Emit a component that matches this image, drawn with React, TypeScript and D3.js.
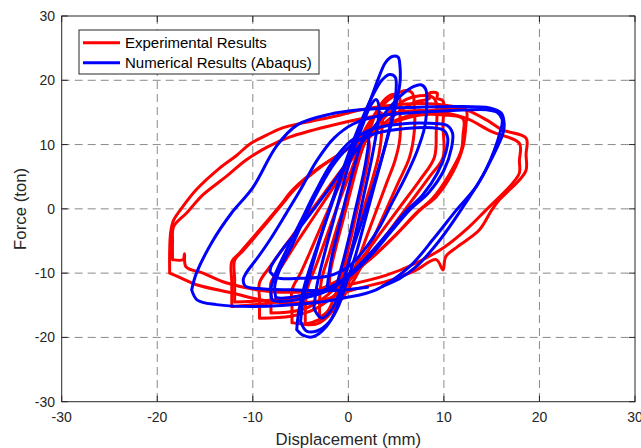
import React from "react";
import * as d3 from "d3";

type P = [number, number];

// Tick values
const xTicks = [-30, -20, -10, 0, 10, 20, 30];
const yTicks = [-30, -20, -10, 0, 10, 20, 30];

// Legend labels
const seriesNames = ["Experimental Results", "Numerical Results (Abaqus)"];
const seriesColors = ["#ff0000", "#0000ff"];

// Experimental (red) hysteresis loops  [displacement mm, force ton]
const redLoop1: P[] = [[-18.7,-10.0],[-18.7,-6.5],[-18.6,-3.7],[-18.3,-1.8],[-17.4,0.2],[-15.9,3.0],[-13.5,6.3],[-11.7,8.3],[-10.3,10.1],[-8.5,11.5],[-6.9,12.6],[-4.0,13.6],[-2.0,14.2],[2.0,15.6],[6.0,16.3],[9.0,16.3],[12.3,15.4],[14.5,13.8],[16.1,12.3],[18.6,11.0],[18.6,8.5],[18.6,6.0],[17.9,4.5],[15.8,1.4],[15.0,-0.2],[13.7,-3.3],[11.5,-5.8],[10.2,-7.4],[9.9,-9.5],[9.2,-7.9],[7.0,-9.6],[4.6,-11.0],[0.5,-12.6],[-3.0,-14.3],[-6.9,-14.6],[-10.0,-13.9],[-12.1,-13.1],[-15.9,-11.8],[-17.6,-10.7],[-18.7,-10.0]];
const redLoop2: P[] = [[-18.4,-7.9],[-18.4,-5.0],[-18.3,-2.8],[-16.9,-0.6],[-15.2,2.2],[-12.8,5.0],[-10.7,7.6],[-8.5,9.6],[-6.1,11.2],[-2.0,12.9],[2.0,14.2],[6.0,15.2],[9.0,15.2],[12.3,14.1],[15.0,12.0],[17.9,10.2],[17.9,7.5],[17.9,5.6],[17.2,4.0],[14.4,-0.2],[12.5,-3.0],[10.0,-6.0],[7.0,-8.5],[4.0,-10.3],[0.0,-11.8],[-4.0,-12.8],[-8.0,-12.9],[-12.8,-11.5],[-15.2,-10.0],[-17.0,-9.0],[-17.15,-7.0],[-17.3,-7.9],[-18.4,-7.9]];
const redLoop3: P[] = [[-12.2,-15.2],[-12.2,-11.5],[-12.2,-8.2],[-11.4,-6.9],[-9.3,-3.3],[-7.2,0.4],[-5.8,3.0],[-3.0,6.5],[-0.2,9.2],[2.0,11.6],[4.5,13.5],[7.5,15.0],[10.0,15.5],[12.3,15.4],[12.3,13.0],[12.0,9.7],[10.9,5.6],[9.2,1.9],[7.5,-0.2],[5.0,-4.0],[2.5,-7.5],[0.0,-10.2],[-2.5,-12.2],[-5.0,-13.6],[-8.0,-14.6],[-10.5,-15.0],[-12.2,-15.2]];
const redLoop4: P[] = [[-11.9,-14.5],[-11.9,-11.0],[-11.9,-8.0],[-11.0,-6.5],[-9.0,-3.0],[-7.0,0.6],[-5.5,3.2],[-2.8,6.6],[0.0,9.4],[2.3,11.8],[4.8,13.5],[7.5,14.6],[10.0,14.6],[12.0,14.0],[12.0,11.5],[11.8,9.0],[10.5,5.2],[8.8,1.6],[7.2,-0.5],[4.8,-4.3],[2.3,-7.8],[-0.2,-10.5],[-2.7,-12.4],[-5.2,-13.6],[-8.2,-14.2],[-10.5,-14.4],[-11.9,-14.5]];
const redLoop5: P[] = [[-9.3,-17.0],[-9.3,-14.0],[-9.3,-11.5],[-8.2,-9.0],[-6.5,-5.5],[-4.5,-1.5],[-2.5,2.5],[-0.5,6.5],[1.5,10.0],[3.5,13.0],[5.5,15.3],[7.0,16.6],[8.5,17.2],[8.5,18.0],[9.3,18.0],[9.3,17.2],[9.9,16.8],[9.9,13.0],[9.9,8.0],[8.5,5.0],[6.5,1.0],[4.5,-3.0],[2.5,-7.0],[0.5,-10.5],[-1.5,-13.5],[-3.5,-15.6],[-6.0,-16.7],[-9.3,-17.0]];
const redLoop6: P[] = [[-8.1,-16.2],[-8.1,-13.5],[-8.1,-11.5],[-7.0,-9.0],[-5.3,-5.0],[-3.5,-1.0],[-1.5,3.5],[0.5,8.0],[2.5,12.0],[4.3,15.0],[6.0,17.0],[7.5,17.6],[8.8,17.4],[9.2,16.5],[9.2,12.0],[9.0,8.0],[7.5,4.5],[5.5,0.5],[3.5,-3.5],[1.5,-7.5],[-0.5,-11.0],[-2.5,-13.8],[-4.5,-15.5],[-6.5,-16.1],[-8.1,-16.2]];
const redLoop7: P[] = [[-5.9,-17.7],[-5.9,-15.0],[-5.9,-12.6],[-5.0,-10.0],[-3.8,-6.0],[-2.5,-1.5],[-1.0,3.5],[0.5,8.5],[2.0,13.0],[3.5,16.0],[5.0,17.8],[6.0,18.4],[6.7,18.0],[6.9,16.0],[6.9,12.0],[6.4,8.0],[5.2,4.0],[4.0,0.0],[2.8,-4.0],[1.5,-8.5],[0.0,-12.5],[-1.5,-15.5],[-3.0,-17.2],[-4.5,-17.9],[-5.9,-17.7]];
const redLoop8: P[] = [[-4.5,-18.0],[-4.5,-15.5],[-4.3,-12.5],[-3.3,-8.5],[-2.2,-4.0],[-1.0,1.0],[0.3,6.0],[1.6,11.0],[2.8,14.8],[3.8,17.0],[4.6,17.8],[5.3,17.5],[5.4,15.0],[5.4,11.0],[4.9,7.6],[4.0,4.0],[3.0,0.0],[2.0,-4.0],[1.0,-8.0],[0.0,-11.5],[-1.0,-14.5],[-2.2,-16.8],[-3.3,-17.9],[-4.5,-18.0]];
const redLoop9: P[] = [[-3.0,-16.9],[-3.0,-14.0],[-2.8,-11.0],[-2.0,-7.0],[-1.2,-3.0],[-0.3,1.0],[0.6,5.5],[1.5,9.5],[2.4,13.0],[3.0,15.0],[3.5,14.8],[3.5,12.0],[3.2,8.5],[2.5,4.5],[1.8,1.0],[1.0,-3.0],[0.2,-7.0],[-0.6,-10.5],[-1.4,-13.5],[-2.2,-16.0],[-3.0,-16.9]];
const redLoop10: P[] = [[-2.0,-13.0],[-1.9,-10.0],[-1.3,-6.0],[-0.6,-2.0],[0.1,2.0],[0.8,6.0],[1.5,9.5],[2.0,11.0],[2.2,10.0],[2.0,7.0],[1.4,3.0],[0.8,-1.0],[0.2,-5.0],[-0.5,-9.0],[-1.2,-12.0],[-2.0,-13.0]];

// Numerical (blue) hysteresis loops
const blueLoop1: P[] = [[-16.4,-12.6],[-15.9,-10.0],[-14.2,-5.0],[-12.3,-0.8],[-10.0,3.3],[-7.5,9.8],[-5.3,13.1],[-2.0,14.7],[1.2,15.4],[5.0,15.7],[9.9,15.9],[14.8,15.7],[16.0,14.9],[16.3,13.4],[16.2,11.8],[15.1,8.1],[13.4,3.5],[11.3,-0.2],[9.0,-4.5],[6.4,-9.0],[2.9,-12.6],[-0.6,-13.9],[-4.0,-14.7],[-10.0,-15.2],[-13.8,-14.9],[-15.8,-14.2],[-16.4,-12.6]];
const blueLoop2: P[] = [[2.0,-12.2],[-1.5,-12.7],[-5.8,-12.6],[-9.5,-12.4],[-10.8,-12.0],[-11.0,-11.0],[-10.7,-10.0],[-9.5,-7.6],[-8.2,-4.8],[-6.5,-0.7],[-5.0,3.0],[-3.3,7.5],[-1.5,11.0],[0.5,13.2],[3.0,14.4],[7.0,15.0],[11.0,15.3],[14.5,15.4],[15.6,15.0],[16.1,13.9],[15.9,12.0],[14.4,6.1],[12.0,0.3],[9.6,-4.8],[7.1,-9.0],[5.3,-10.9],[3.6,-12.0]];
const blueLoop3: P[] = [[-8.0,-14.2],[-8.1,-12.5],[-7.6,-10.0],[-6.5,-6.5],[-5.0,-2.0],[-3.5,2.5],[-1.8,7.0],[0.2,10.5],[2.5,12.4],[5.5,13.2],[8.5,13.3],[10.3,13.0],[10.9,11.8],[10.8,9.5],[10.0,6.0],[8.4,2.5],[6.4,-0.2],[4.5,-3.5],[2.5,-7.0],[0.5,-10.0],[-2.0,-12.6],[-5.0,-14.0],[-7.2,-14.4],[-8.0,-14.2]];
const blueLoop4: P[] = [[-7.6,-13.8],[-7.7,-12.0],[-7.2,-9.5],[-6.0,-6.0],[-4.6,-1.5],[-3.1,3.0],[-1.4,7.2],[0.6,10.3],[3.0,11.8],[6.0,12.5],[8.8,12.6],[10.0,12.2],[10.4,11.0],[10.2,8.8],[9.3,5.5],[7.8,2.2],[5.9,-0.6],[4.0,-4.0],[2.0,-7.4],[0.0,-10.3],[-2.5,-12.6],[-5.0,-13.5],[-7.0,-13.9],[-7.6,-13.8]];
const blueLoop5: P[] = [[-8.2,-9.8],[-8.1,-9.0],[-7.0,-6.5],[-5.8,-4.3],[-4.0,-0.8],[-2.0,3.2],[0.0,7.5],[2.2,11.8],[4.0,15.2],[5.5,17.6],[6.8,19.0],[7.6,19.3],[8.1,18.6],[8.2,16.0],[8.0,12.8],[7.2,9.0],[6.0,5.0],[4.6,1.0],[3.2,-3.0],[1.6,-6.5],[0.0,-9.0],[-2.0,-10.4],[-5.0,-10.8],[-7.5,-10.7],[-8.2,-9.8]];
const blueLoop6: P[] = [[-5.4,-18.8],[-5.2,-16.0],[-4.6,-12.0],[-3.3,-6.0],[-1.9,0.0],[-0.5,6.0],[1.0,12.0],[2.2,16.5],[3.2,20.5],[3.9,22.8],[4.6,23.7],[5.2,23.6],[5.4,22.2],[5.4,19.6],[4.8,15.0],[3.8,9.5],[2.6,3.5],[1.4,-2.0],[0.2,-7.5],[-0.6,-12.0],[-1.3,-15.7],[-2.3,-18.3],[-3.7,-19.9],[-4.7,-19.7],[-5.4,-18.8]];
const blueLoop7: P[] = [[-5.0,-17.5],[-4.7,-14.0],[-3.8,-9.0],[-2.6,-3.0],[-1.3,3.0],[0.0,8.5],[1.3,13.5],[2.5,17.5],[3.5,20.0],[4.3,20.9],[4.9,20.5],[5.0,18.5],[4.6,14.5],[3.8,9.5],[2.8,4.0],[1.8,-1.5],[0.8,-7.0],[-0.2,-11.5],[-1.0,-15.0],[-2.0,-17.6],[-3.3,-19.0],[-4.4,-19.0],[-5.0,-17.5]];
const blueLoop8: P[] = [[-3.6,-15.5],[-3.3,-12.0],[-2.5,-7.0],[-1.5,-1.5],[-0.5,4.0],[0.5,9.0],[1.5,13.0],[2.3,16.0],[2.9,17.0],[3.2,16.0],[3.0,12.5],[2.4,7.5],[1.6,2.0],[0.8,-3.5],[0.0,-8.5],[-0.8,-12.5],[-1.8,-15.8],[-2.8,-17.0],[-3.6,-15.5]];
const blueLoop9: P[] = [[-2.2,-12.0],[-1.8,-8.0],[-1.0,-3.0],[-0.2,2.0],[0.6,6.5],[1.3,10.0],[1.8,11.8],[2.1,11.0],[1.9,8.0],[1.3,3.5],[0.6,-1.0],[-0.1,-5.5],[-0.8,-9.5],[-1.5,-12.5],[-2.2,-12.0]];

const redLoops = [redLoop1, redLoop2, redLoop3, redLoop4, redLoop5, redLoop6, redLoop7, redLoop8, redLoop9, redLoop10];
const blueLoops = [blueLoop1, blueLoop2, blueLoop3, blueLoop4, blueLoop5, blueLoop6, blueLoop7, blueLoop8, blueLoop9];

const W = 641, H = 448;
const L = 61.7, R = 635, T = 16, B = 401.7;
const FONT = "'Liberation Sans', Arial, Helvetica, sans-serif";
const TXT = "#262626";

export default function App() {
  const x = d3.scaleLinear().domain([-30, 30]).range([L, R]);
  const y = d3.scaleLinear().domain([-30, 30]).range([B, T]);
  const line = d3
    .line<P>()
    .x((d) => x(d[0]))
    .y((d) => y(d[1]))
    .curve(d3.curveCatmullRom.alpha(0.5));

  const inner = (v: number) => v > -30 && v < 30;

  return (
    <svg width={W} height={H} style={{ position: "absolute", left: 0, top: 0, background: "#fff" }} fontFamily={FONT}>
      <rect x={0} y={0} width={W} height={H} fill="#ffffff" />
      <defs>
        <clipPath id="plot">
          <rect x={L} y={T} width={R - L} height={B - T} />
        </clipPath>
      </defs>
      {/* grid */}
      <g stroke="#8a8a8a" strokeWidth={1} strokeDasharray="8,5" fill="none">
        {xTicks.filter(inner).map((t) => (
          <line key={"gx" + t} x1={x(t)} x2={x(t)} y1={T} y2={B} />
        ))}
        {yTicks.filter(inner).map((t) => (
          <line key={"gy" + t} x1={L} x2={R} y1={y(t)} y2={y(t)} />
        ))}
      </g>
      {/* data */}
      <g clipPath="url(#plot)" fill="none" strokeLinejoin="round" strokeLinecap="round">
        {redLoops.map((d, i) => (
          <path key={"r" + i} d={line(d) || ""} stroke={seriesColors[0]} strokeWidth={3} />
        ))}
        {blueLoops.map((d, i) => (
          <path key={"b" + i} d={line(d) || ""} stroke={seriesColors[1]} strokeWidth={3} />
        ))}
      </g>
      {/* frame */}
      <rect x={L} y={T} width={R - L} height={B - T} fill="none" stroke={TXT} strokeWidth={1} />
      {/* ticks */}
      <g stroke={TXT} strokeWidth={1}>
        {xTicks.map((t) => (
          <g key={"tx" + t}>
            <line x1={x(t)} x2={x(t)} y1={B} y2={B - 6} />
            <line x1={x(t)} x2={x(t)} y1={T} y2={T + 6} />
          </g>
        ))}
        {yTicks.map((t) => (
          <g key={"ty" + t}>
            <line x1={L} x2={L + 6} y1={y(t)} y2={y(t)} />
            <line x1={R} x2={R - 6} y1={y(t)} y2={y(t)} />
          </g>
        ))}
      </g>
      {/* tick labels */}
      <g fill={TXT} fontSize={14}>
        {xTicks.map((t) => (
          <text key={"lx" + t} x={x(t)} y={422} textAnchor="middle">
            {t}
          </text>
        ))}
        {yTicks.map((t) => (
          <text key={"ly" + t} x={55} y={y(t) + 5} textAnchor="end">
            {t}
          </text>
        ))}
      </g>
      {/* axis labels */}
      <text x={(L + R) / 2} y={445} textAnchor="middle" fontSize={16.8} fill={TXT}>
        Displacement (mm)
      </text>
      <text transform={`translate(25.5,${(T + B) / 2}) rotate(-90)`} textAnchor="middle" fontSize={16.8} fill={TXT}>
        Force (ton)
      </text>
      {/* legend */}
      <g>
        <rect x={79} y={30} width={240} height={44} fill="#fff" stroke={TXT} strokeWidth={1} />
        {seriesNames.map((n, i) => (
          <g key={n}>
            <line x1={83} x2={120} y1={42.7 + i * 20} y2={42.7 + i * 20} stroke={seriesColors[i]} strokeWidth={3} />
            <text x={125} y={48.3 + i * 20} fontSize={15} fill="#000">
              {n}
            </text>
          </g>
        ))}
      </g>
    </svg>
  );
}
